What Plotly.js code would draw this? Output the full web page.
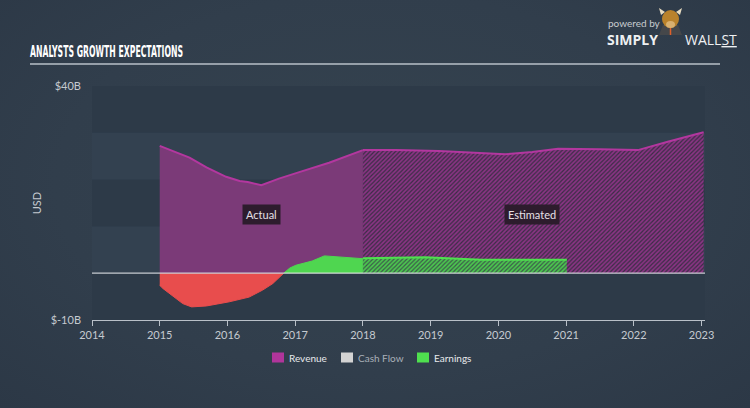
<!DOCTYPE html>
<html>
<head>
<meta charset="utf-8">
<script src="https://cdn.plot.ly/plotly-3.0.1.min.js"></script>
<style>
html,body{margin:0;padding:0;width:750px;height:408px;overflow:hidden;
background:radial-gradient(ellipse at 50% 45%, #35434f 0%, #313e4c 60%, #2c3846 100%);}
#chart{width:750px;height:408px;}
</style>
</head>
<body>
<div id="chart"></div>
<script>
// ---- data (USD billions) ----
const revActualX = [2015.0, 2015.44, 2015.69, 2015.98, 2016.18, 2016.3, 2016.5, 2016.76, 2017.06, 2017.5, 2018.0];
const revActualY = [27.2, 24.7, 22.6, 20.6, 19.7, 19.5, 18.8, 20.2, 21.6, 23.6, 26.3];
const revEstX = [2018.0, 2018.5, 2019.12, 2019.6, 2020.1, 2020.5, 2020.88, 2021.5, 2022.06, 2022.5, 2023.03];
const revEstY = [26.3, 26.3, 26.1, 25.7, 25.4, 25.9, 26.6, 26.5, 26.3, 28.1, 30.1];
const earnActualX = [2015.0, 2015.05, 2015.34, 2015.47, 2015.69, 2016.03, 2016.32, 2016.52, 2016.67, 2016.83, 2016.92, 2017.01, 2017.25, 2017.43, 2017.75, 2018.0];
const earnActualY = [-2.6, -3.3, -6.5, -7.2, -7.0, -6.1, -5.1, -3.6, -2.2, 0, 1.1, 1.7, 2.6, 3.7, 3.3, 3.1];
const earnEstX = [2018.0, 2018.92, 2019.75, 2021.01];
const earnEstY = [3.2, 3.4, 2.9, 2.85];
const yearTicks = [2014, 2015, 2016, 2017, 2018, 2019, 2020, 2021, 2022, 2023];
const yTickVals = [-10, 40];
const yTickText = ['$-10B', '$40B'];
const legendNames = ['Revenue', 'Cash Flow', 'Earnings'];
const legendColors = ['#b0359b', '#d3d3d3', '#4fe04f'];
const legendTextColors = ['#e8eaec', '#a9b0b8', '#e8eaec'];

// ---- geometry helpers ----
const W = 750, H = 408, L = 92, R = 45, T = 86, B = 88;
const pw = W - L - R, ph = H - T - B;
const px = x => (x - L) / pw;
const py = y => (H - B - y) / ph;

const negX = [], negY = [], posX = [], posY = [];
earnActualX.forEach((x, i) => {
  const y = earnActualY[i];
  if (y <= 0) { negX.push(x); negY.push(y); }
  if (y >= 0) { posX.push(x); posY.push(y); }
});

const FONT = 'Lato, "Open Sans", sans-serif';

const traces = [
  {x: revActualX, y: revActualY, type: 'scatter', mode: 'lines', fill: 'tozeroy',
   fillcolor: '#7b3a78', line: {color: '#b3379f', width: 2}, showlegend: false, hoverinfo: 'skip'},
  {x: revEstX, y: revEstY, type: 'scatter', mode: 'lines', fill: 'tozeroy',
   fillcolor: '#6a3466',
   fillpattern: {shape: '/', size: 3, solidity: 0.4, bgcolor: '#8a3484', fgcolor: '#3a2d45'},
   line: {color: '#b3379f', width: 2}, showlegend: false, hoverinfo: 'skip'},
  {x: negX, y: negY, type: 'scatter', mode: 'lines', fill: 'tozeroy',
   fillcolor: '#e84d4d', line: {color: '#e84d4d', width: 1}, showlegend: false, hoverinfo: 'skip'},
  {x: posX, y: posY, type: 'scatter', mode: 'lines', fill: 'tozeroy',
   fillcolor: '#4fd650', line: {color: '#4fd650', width: 1}, showlegend: false, hoverinfo: 'skip'},
  {x: earnEstX, y: earnEstY, type: 'scatter', mode: 'lines', fill: 'tozeroy',
   fillcolor: '#47a34c',
   fillpattern: {shape: '/', size: 3, solidity: 0.4, bgcolor: '#4cc74f', fgcolor: '#3b5a4a'},
   line: {color: '#4fe04f', width: 2}, showlegend: false, hoverinfo: 'skip'}
];

const shapes = [
  // bands
  {type: 'rect', xref: 'paper', yref: 'y', x0: 0, x1: 1, y0: 30, y1: 40, fillcolor: '#2d3a48', line: {width: 0}, layer: 'below'},
  {type: 'rect', xref: 'paper', yref: 'y', x0: 0, x1: 1, y0: 10, y1: 20, fillcolor: '#2d3a48', line: {width: 0}, layer: 'below'},
  {type: 'rect', xref: 'paper', yref: 'y', x0: 0, x1: 1, y0: -10, y1: 0, fillcolor: '#2d3a48', line: {width: 0}, layer: 'below'},
  // zero line
  {type: 'line', xref: 'paper', yref: 'y', x0: 0, x1: 1, y0: 0, y1: 0, line: {color: 'rgba(225,228,232,0.85)', width: 1.2}, layer: 'above'},
  // title underline
  {type: 'line', xref: 'paper', yref: 'paper', x0: px(30), x1: px(720), y0: py(64), y1: py(64), line: {color: '#b9c0c8', width: 1.5}},
  // logo bull: suit, head, horns, tie
  {type: 'path', xref: 'paper', yref: 'paper',
   path: 'M ' + px(659) + ' ' + py(35) + ' L ' + px(682) + ' ' + py(35) + ' L ' + px(678) + ' ' + py(25) + ' L ' + px(663) + ' ' + py(25) + ' Z',
   fillcolor: '#45474a', line: {width: 0}},
  {type: 'path', xref: 'paper', yref: 'paper',
   path: 'M ' + px(661) + ' ' + py(15) + ' L ' + px(659) + ' ' + py(8) + ' L ' + px(665) + ' ' + py(12) + ' Z M ' + px(680) + ' ' + py(15) + ' L ' + px(682) + ' ' + py(8) + ' L ' + px(676) + ' ' + py(12) + ' Z',
   fillcolor: '#e8dcc0', line: {width: 0}},
  {type: 'circle', xref: 'paper', yref: 'paper', x0: px(662), x1: px(679), y0: py(28), y1: py(10), fillcolor: '#b9822c', line: {width: 0}},
  {type: 'circle', xref: 'paper', yref: 'paper', x0: px(666), x1: px(675), y0: py(28), y1: py(21), fillcolor: '#d8b070', line: {width: 0}},
  {type: 'line', xref: 'paper', yref: 'paper', x0: px(670.5), x1: px(670.5), y0: py(28), y1: py(35), line: {color: '#e0602a', width: 1.5}}
];

const ann = (text, x, y, opts) => Object.assign({text: text, xref: 'paper', yref: 'paper', x: px(x), y: py(y), showarrow: false}, opts);

const annotations = [
  {text: 'Actual', xref: 'x', yref: 'y', x: 2016.5, y: 12.6, showarrow: false,
   bgcolor: '#2d1c2d', borderpad: 3, font: {family: FONT, size: 11, color: '#e6e0e6'}},
  {text: 'Estimated', xref: 'x', yref: 'y', x: 2020.5, y: 12.6, showarrow: false,
   bgcolor: '#2d1c2d', borderpad: 3, font: {family: FONT, size: 11, color: '#e6e0e6'}},
  ann('powered by', 606, 15, {xanchor: 'left', font: {family: FONT, size: 10, color: '#c8ccd0'}}),
  ann('<b>SIMPLY</b>', 605, 28, {xanchor: 'left', font: {family: '"Open Sans", sans-serif', size: 14, color: '#eef0f2'}}),
  ann('WALL<u>ST</u>', 683, 28, {xanchor: 'left', font: {family: '"Open Sans", sans-serif', size: 14, color: '#eef0f2'}})
];

// manual legend
const legSquareX = [272, 341, 417];
legendNames.forEach((name, i) => {
  shapes.push({type: 'rect', xref: 'paper', yref: 'paper', x0: px(legSquareX[i]), x1: px(legSquareX[i] + 12),
               y0: py(362.5), y1: py(352.5), fillcolor: legendColors[i], line: {width: 0}});
  annotations.push(ann(name, legSquareX[i] + 15, 357.5, {xanchor: 'left', yanchor: 'middle',
               font: {family: FONT, size: 10, color: legendTextColors[i]}}));
});

const layout = {
  width: W, height: H,
  margin: {l: L, r: R, t: T, b: B, pad: 0},
  paper_bgcolor: 'rgba(0,0,0,0)',
  plot_bgcolor: '#334150',
  font: {family: FONT, color: '#c5cad0', size: 11},
  title: {text: 'ANALYSTS GROWTH EXPECTATIONS', x: 30 / W, xref: 'container', xanchor: 'left',
          y: 1 - 52 / H, yref: 'container', yanchor: 'middle',
          font: {family: '"DejaVu Sans Condensed", "Liberation Sans Narrow", sans-serif', size: 15, weight: 'bold', color: '#ffffff'}},
  xaxis: {range: [2014, 2023.05], tickvals: yearTicks, ticktext: yearTicks.map(String),
          showgrid: false, zeroline: false, showline: true, linecolor: '#b9c0c8', linewidth: 1,
          ticks: 'outside', ticklen: 5, tickcolor: '#b9c0c8', tickfont: {size: 11, color: '#c5cad0'}, fixedrange: true},
  yaxis: {range: [-10, 40], tickvals: yTickVals, ticktext: yTickText, showgrid: false, zeroline: false,
          showline: false, ticks: '', ticklabelstandoff: 10, tickfont: {size: 11, color: '#c5cad0'},
          title: {text: 'USD', font: {size: 11, color: '#c5cad0'}, standoff: 6}, fixedrange: true},
  showlegend: false,
  shapes: shapes,
  annotations: annotations,
  hovermode: false
};

Plotly.newPlot('chart', traces, layout, {displayModeBar: false, staticPlot: true}).then(() => {
  const t = document.querySelector('.gtitle');
  if (t) {
    t.setAttribute('textLength', '153');
    t.setAttribute('lengthAdjust', 'spacingAndGlyphs');
  }
});
</script>
</body>
</html>
